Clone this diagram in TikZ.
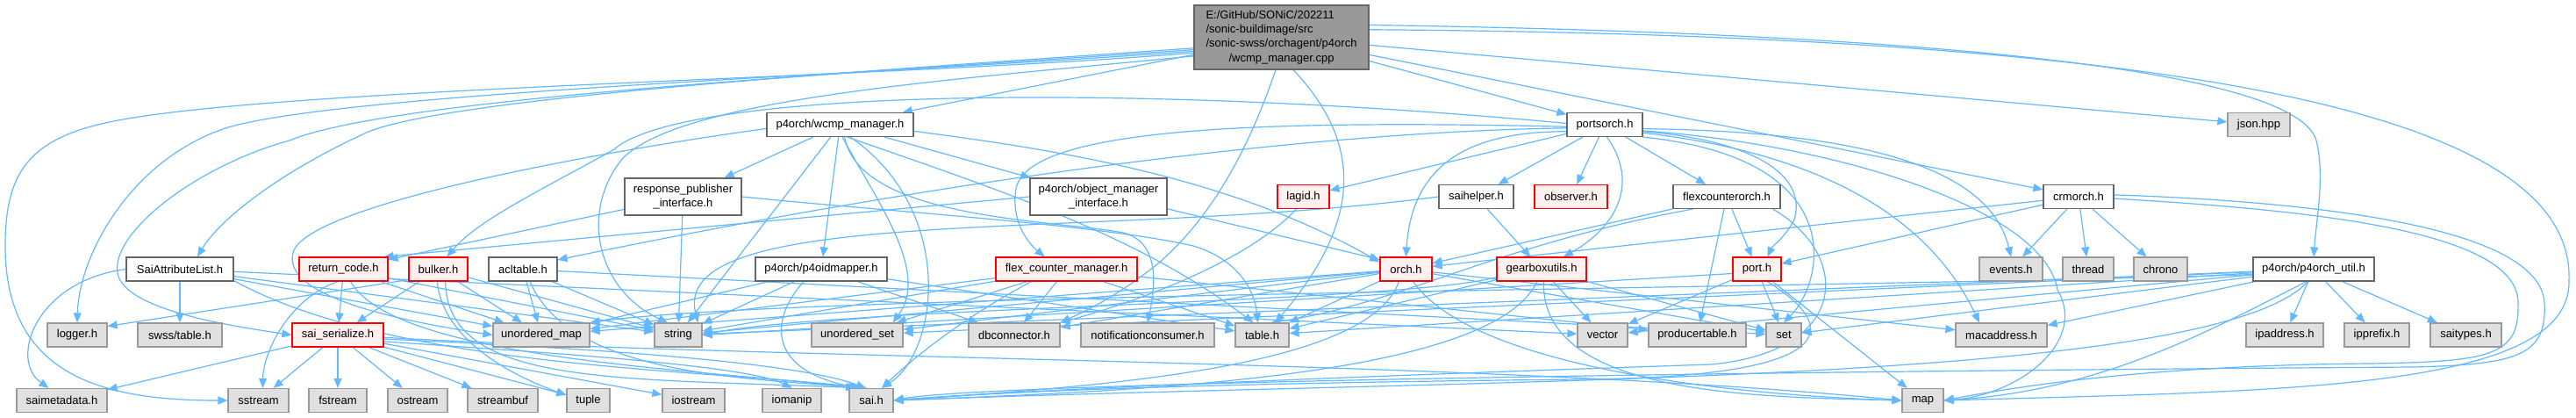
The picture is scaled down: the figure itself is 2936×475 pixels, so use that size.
\documentclass[tikz,border=0pt]{standalone}
\usepackage{fontspec}
\setmainfont{Liberation Sans}
\usetikzlibrary{arrows.meta}
\definecolor{edgec}{HTML}{63B8FF}
\definecolor{gfill}{HTML}{E0E0E0}
\definecolor{gdraw}{HTML}{999999}
\definecolor{wdraw}{HTML}{666666}
\definecolor{rfill}{HTML}{FFF0F0}
\definecolor{rdraw}{HTML}{FF0000}
\definecolor{mfill}{HTML}{999999}
\newcommand\nodefont{\fontsize{13pt}{16.3pt}\selectfont}
\pgfdeclarelayer{bglayer}
\pgfdeclarelayer{edgelayer}
\pgfsetlayers{bglayer,edgelayer,main}
\begin{document}
\begin{tikzpicture}[x=1pt,y=-1pt,
  base/.style={rectangle, inner sep=0pt, minimum height=27pt, line width=1.2pt, font=\nodefont},
  wn/.style={base, draw=wdraw, fill=white},
  gn/.style={base, draw=gdraw, fill=gfill},
  rn/.style={base, draw=rdraw, fill=rfill},
  mn/.style={base, draw=wdraw, fill=mfill},
  e/.style={draw=edgec, line width=1.2pt, -{Triangle[length=11pt,width=9pt]}}]
\begin{pgfonlayer}{bglayer}
\fill[white] (0,0) rectangle (2936,475);
\end{pgfonlayer}
\useasboundingbox (0,0) rectangle (2936,475);
% row 0
\node[mn, minimum width=199pt, minimum height=73pt] (main) at (1460.5,42.5) {\begin{tabular}{@{}l@{}}E:/GitHub/SONiC/202211\\/sonic-buildimage/src\\/sonic-swss/orchagent/p4orch\\\multicolumn{1}{@{}c@{}}{/wcmp\_manager.cpp}\end{tabular}};
% row 1
\node[wn, minimum width=167pt] (wcmp) at (957.5,142) {p4orch/wcmp\_manager.h};
\node[wn, minimum width=86pt] (ps) at (1829,142) {portsorch.h};
\node[gn, minimum width=71pt] (json) at (2574.5,142) {json.hpp};
% row 2
\node[wn, minimum width=133pt, minimum height=42pt, align=center] (resp) at (778.5,224) {response\_publisher\\\_interface.h};
\node[wn, minimum width=156pt, minimum height=42pt, align=center] (objmgr) at (1252,224) {p4orch/object\_manager\\\_interface.h};
\node[rn, minimum width=59pt] (lagid) at (1485.5,224) {lagid.h};
\node[wn, minimum width=85pt] (saihelper) at (1682.5,224) {saihelper.h};
\node[rn, minimum width=83pt] (observer) at (1790.5,224) {observer.h};
\node[wn, minimum width=122pt] (flexco) at (1968,224) {flexcounterorch.h};
\node[wn, minimum width=80pt] (crm) at (2369,224) {crmorch.h};
% row 3
\node[wn, minimum width=122pt] (sal) at (205,306.5) {SaiAttributeList.h};
\node[rn, minimum width=101pt] (rc) at (391.5,306.5) {return\_code.h};
\node[rn, minimum width=67pt] (bulker) at (499.5,306.5) {bulker.h};
\node[wn, minimum width=78pt] (acl) at (596,306.5) {acltable.h};
\node[wn, minimum width=150pt] (oidm) at (936,306.5) {p4orch/p4oidmapper.h};
\node[rn, minimum width=161pt] (fcm) at (1215.5,306.5) {flex\_counter\_manager.h};
\node[rn, minimum width=59pt] (orch) at (1602.5,306.5) {orch.h};
\node[rn, minimum width=102pt] (gear) at (1757,306.5) {gearboxutils.h};
\node[rn, minimum width=55pt] (port) at (2002.5,306.5) {port.h};
\node[gn, minimum width=72pt] (events) at (2292,306.5) {events.h};
\node[gn, minimum width=58pt] (thread) at (2380,306.5) {thread};
\node[gn, minimum width=61pt] (chrono) at (2462.5,306.5) {chrono};
\node[wn, minimum width=138pt] (putil) at (2637,306.5) {p4orch/p4orch\_util.h};
% row 4
\node[gn, minimum width=68pt] (logger) at (88,381.5) {logger.h};
\node[gn, minimum width=96pt] (swsstable) at (205,381.5) {swss/table.h};
\node[rn, minimum width=104pt] (saiser) at (385,381.5) {sai\_serialize.h};
\node[gn, minimum width=110pt] (umap) at (617,381.5) {unordered\_map};
\node[gn, minimum width=54pt] (string) at (773,381.5) {string};
\node[gn, minimum width=104pt] (uset) at (977,381.5) {unordered\_set};
\node[gn, minimum width=104pt] (dbc) at (1156,381.5) {dbconnector.h};
\node[gn, minimum width=152pt] (notif) at (1308,381.5) {notificationconsumer.h};
\node[gn, minimum width=61pt] (table) at (1438.5,381.5) {table.h};
\node[gn, minimum width=57pt] (vector) at (1826.5,381.5) {vector};
\node[gn, minimum width=111pt] (prodt) at (1934.5,381.5) {producertable.h};
\node[gn, minimum width=40pt] (set) at (2033,381.5) {set};
\node[gn, minimum width=104pt] (mac) at (2281,381.5) {macaddress.h};
\node[gn, minimum width=88pt] (ipaddr) at (2604,381.5) {ipaddress.h};
\node[gn, minimum width=74pt] (ippref) at (2709,381.5) {ipprefix.h};
\node[gn, minimum width=81pt] (saitypes) at (2810.5,381.5) {saitypes.h};
% row 5
\node[gn, minimum width=103pt] (saimeta) at (70.5,456) {saimetadata.h};
\node[gn, minimum width=69pt] (sstream) at (294.5,456) {sstream};
\node[gn, minimum width=66pt] (fstream) at (385,456) {fstream};
\node[gn, minimum width=68pt] (ostream) at (476,456) {ostream};
\node[gn, minimum width=80pt] (streambuf) at (573,456) {streambuf};
\node[gn, minimum width=49pt] (tuple) at (670.5,456) {tuple};
\node[gn, minimum width=71pt] (iostream) at (790.5,456) {iostream};
\node[gn, minimum width=67pt] (iomanip) at (902.5,456) {iomanip};
\node[gn, minimum width=50pt] (sai) at (993,456) {sai.h};
\node[gn, minimum width=47pt] (map) at (2191.5,456) {map};

\begin{pgfonlayer}{edgelayer}
% main
\draw[e] (main) -- (wcmp);
\draw[e] (main) -- (ps);
\draw[e] (main) -- (json);
\draw[e] (main) -- (crm);
\draw[e] (main.8) .. controls (2300,40) and (2620,90) .. (2640,160) .. controls (2650,200) and (2640,250) .. (putil.north);
\draw[e] (main.5) .. controls (2450,40) and (2936,120) .. (2928,320) .. controls (2930,445) and (2600,445) .. (map.east);
\draw[e] (main.190) .. controls (1000,90) and (300,100) .. (120,140) .. controls (30,160) and (6,200) .. (6,280) .. controls (6,430) and (120,456) .. (sstream.west);
\draw[e] (main.189) .. controls (1000,85) and (400,105) .. (260,145) .. controls (150,180) and (90,290) .. (logger.north);
\draw[e] (main.188) .. controls (1000,82) and (450,110) .. (330,160) .. controls (220,190) and (120,270) .. (135,315) .. controls (150,355) and (270,372) .. (saiser.west);
\draw[e] (main.187) .. controls (1000,80) and (520,110) .. (420,150) .. controls (320,195) and (250,250) .. ([xshift=20pt]sal.north);
\draw[e] (main.192) .. controls (1100,90) and (780,110) .. (710,180) .. controls (660,240) and (680,330) .. ([xshift=-12pt]string.north);
\draw[e] (main.-100) .. controls (1430,150) and (1390,240) .. (1320,300) .. controls (1270,340) and (1235,355) .. (dbc.north east);
\draw[e] (main.-70) .. controls (1560,170) and (1545,260) .. ([xshift=15pt]table.north);
% wcmp_manager.h
\draw[e] (wcmp) -- (resp);
\draw[e] (wcmp) -- (oidm);
\draw[e] (wcmp) -- (objmgr);
\draw[e] (wcmp.-5) .. controls (1200,170) and (1400,200) .. (orch.165);
\draw[e] (wcmp.-60) .. controls (1150,220) and (1300,270) .. ([xshift=-10pt]table.north);
\draw[e] (wcmp.-80) .. controls (1000,230) and (1060,310) .. ([xshift=-12pt]uset.north east);
\draw[e] (wcmp.-70) .. controls (980,250) and (1200,250) .. (1280,265) .. controls (1320,275) and (1318,320) .. (notif.north);
\draw[e] (wcmp.183) .. controls (700,170) and (360,230) .. (335,285) .. controls (318,330) and (420,360) .. (umap.west);
\draw[e] (wcmp) -- (string);
\draw[e] (wcmp.-50) .. controls (1090,240) and (1070,400) .. ([xshift=12pt]sai.north);
% portsorch.h
\draw[e] (ps) -- (lagid);
\draw[e] (ps) -- (saihelper);
\draw[e] (ps) -- (observer);
\draw[e] (ps) -- (flexco);
\draw[e] (ps.190) .. controls (1700,150) and (1610,170) .. (orch.north);
\draw[e] (ps.-80) .. controls (1870,210) and (1840,260) .. ([xshift=25pt]gear.north);
\draw[e] (ps.-10) .. controls (2000,160) and (2060,200) .. (2045,250) .. controls (2035,270) and (2020,280) .. ([xshift=12pt]port.north);
\draw[e] (ps.185) .. controls (1500,150) and (1100,200) .. (acl.15);
\draw[e] (ps.183) .. controls (1400,135) and (1170,150) .. (1158,215) .. controls (1152,250) and (1170,275) .. ([xshift=-25pt]fcm.north);
\draw[e] (ps.-12) .. controls (2080,175) and (2200,250) .. ([xshift=-25pt]mac.north);
\draw[e] (ps.-18) .. controls (2110,180) and (2080,320) .. (set.north);
\draw[e] (ps.-9) .. controls (2100,165) and (2330,240) .. (2345,330) .. controls (2380,390) and (2300,450) .. (map.east);
\draw[e] (ps.-6) .. controls (2150,150) and (2270,200) .. (events.north);
\draw[e] (ps.178) .. controls (1300,95) and (780,100) .. (700,170) .. controls (620,215) and (545,250) .. ([xshift=10pt]bulker.north);
% crmorch.h
\draw[e] (crm) -- (events);
\draw[e] (crm) -- (thread);
\draw[e] (crm) -- (chrono);
\draw[e] (crm) -- (orch);
\draw[e] (crm) -- (port);
\draw[e] (crm.3) .. controls (2650,230) and (2895,260) .. (2900,345) .. controls (2903,405) and (2870,415) .. (2750,418) .. controls (1700,425) and (1100,440) .. (sai.east);
\draw[e] (crm.-3) .. controls (2650,240) and (2870,265) .. (2870,345) .. controls (2872,405) and (2840,412) .. (2700,414) .. controls (2450,416) and (2300,440) .. (map.east);
% p4orch_util.h
\draw[e] (putil) -- (ipaddr);
\draw[e] (putil) -- (ippref);
\draw[e] (putil) -- (saitypes);
\draw[e] (putil) -- (mac);
\draw[e] (putil) -- (set);
\draw[e] (putil) -- (vector);
\draw[e] (putil) -- (table);
\draw[e] (putil) -- (uset);
\draw[e] (putil) -- (string);
\draw[e] (putil.185) .. controls (2000,330) and (900,335) .. (umap.north east);
\draw[e] (putil.-120) .. controls (2530,370) and (2400,445) .. (map.east);
\draw[e] (putil.-115) .. controls (2520,440) and (1700,430) .. (sai.east);
% acltable.h
\draw[e] (acl) -- (umap);
\draw[e] (acl) -- (string);
\draw[e] (acl) -- (set);
\draw[e] (acl.-60) .. controls (650,430) and (860,430) .. ([xshift=-15pt]sai.north);
% return_code.h
\draw[e] (rc) -- (saiser);
\draw[e] (rc.-115) .. controls (330,340) and (300,400) .. ([xshift=5pt]sstream.north);
\draw[e] (rc) -- (umap);
\draw[e] (rc) -- (string);
\draw[e] (rc.-60) .. controls (450,410) and (800,420) .. ([xshift=-18pt]sai.north);
% bulker.h
\draw[e] ([yshift=2pt]bulker.south west) -- ([yshift=10pt]logger.east);
\draw[e] (bulker) -- (saiser);
\draw[e] (bulker) -- (umap);
\draw[e] (bulker) -- (string);
\draw[e] (bulker.-95) .. controls (505,390) and (590,430) .. ([yshift=6pt]tuple.west);
\draw[e] (bulker.-60) .. controls (510,440) and (700,430) .. ([xshift=-10pt]sai.north);
% SaiAttributeList.h
\draw[e] (sal) -- (swsstable);
\draw[e] (sal.west) .. controls (40,320) and (10,410) .. ([xshift=-15pt]saimeta.north);
\draw[e] (sal) -- (umap);
\draw[e] (sal) -- (string);
\draw[e] (sal) -- (vector);
\draw[e] (sal.-12) .. controls (450,420) and (800,420) .. ([xshift=-5pt]sai.north);
% sai_serialize.h
\draw[e] (saiser) -- (saimeta);
\draw[e] (saiser) -- (sstream);
\draw[e] (saiser) -- (fstream);
\draw[e] (saiser) -- (ostream);
\draw[e] (saiser) -- (streambuf);
\draw[e] (saiser) -- (tuple);
\draw[e] (saiser) -- (iostream);
\draw[e] (saiser.-8) .. controls (600,400) and (850,415) .. (iomanip.north);
\draw[e] (saiser.-5) .. controls (640,395) and (900,410) .. ([xshift=-6pt]sai.north);
\draw[e] (saiser.-3) .. controls (900,410) and (1700,410) .. (map.west);
% flex_counter_manager.h
\draw[e] (fcm) -- (uset);
\draw[e] (fcm) -- (umap);
\draw[e] (fcm) -- (string);
\draw[e] (fcm) -- (dbc);
\draw[e] (fcm) -- (table);
\draw[e] (fcm) -- (prodt);
\draw[e] ([xshift=-40pt]fcm.south) .. controls (1120,350) and (1060,390) .. ([xshift=12pt]sai.north);
% p4oidmapper.h
\draw[e] (oidm) -- (umap);
\draw[e] (oidm) -- (string);
\draw[e] (oidm) -- (dbc);
\draw[e] (oidm) -- (table);
\draw[e] ([xshift=-20pt]oidm.south) .. controls (880,360) and (870,420) .. ([xshift=-14pt]sai.north);
% object_manager_interface.h
\draw[e] (objmgr.-10) -- (orch.160);
\draw[e] (objmgr.west) -- ([xshift=-5pt]rc.north east);
% response_publisher_interface.h
\draw[e] (resp) -- (rc);
\draw[e] (resp) -- (string);
\draw[e] (resp.east) .. controls (1000,240) and (1250,255) .. (1360,280) .. controls (1410,295) and (1430,330) .. ([xshift=-5pt]table.north);
% lagid.h
\draw[e] (lagid.-120) .. controls (1420,300) and (1290,345) .. (dbc.north east);
% orch.h
\draw[e] (orch) -- (table);
\draw[e] (orch) -- (dbc);
\draw[e] (orch) -- (uset);
\draw[e] (orch) -- (umap);
\draw[e] (orch) -- (string);
\draw[e] (orch) -- (set);
\draw[e] (orch) -- (mac);
\draw[e] (orch.-120) .. controls (1560,420) and (1250,440) .. (sai.east);
\draw[e] (orch.-60) .. controls (1680,420) and (1980,450) .. (map.west);
% saihelper.h
\draw[e] (saihelper) -- (gear);
\draw[e] (saihelper.west) .. controls (1250,275) and (760,230) .. ([xshift=-5pt]string.north east);
% gearboxutils.h
\draw[e] (gear) -- (vector);
\draw[e] (gear) -- (table);
\draw[e] (gear) -- (set);
\draw[e] (gear.-80) .. controls (1755,450) and (2000,452) .. (map.west);
\draw[e] (gear.-110) .. controls (1700,430) and (1300,445) .. (sai.east);
\draw[e] (gear.-170) .. controls (1600,345) and (950,350) .. (string.east);
% port.h
\draw[e] (port) -- (vector);
\draw[e] (port) -- (set);
\draw[e] (port) -- (map);
\draw[e] (port.-50) .. controls (2110,380) and (2080,430) .. (1800,432) .. controls (1400,436) and (1150,445) .. (sai.east);
\draw[e] (port.190) -- (string.east);
% flexcounterorch.h
\draw[e] (flexco) -- (orch);
\draw[e] (flexco) -- (port);
\draw[e] (flexco) -- (prodt);
\draw[e] (flexco.200) .. controls (1700,280) and (1600,345) .. ([xshift=10pt]table.north);
\draw[e] (flexco.-15) .. controls (2110,290) and (2110,400) .. (1950,415) .. controls (1500,430) and (1150,445) .. (sai.east);
\end{pgfonlayer}
\end{tikzpicture}
\end{document}
